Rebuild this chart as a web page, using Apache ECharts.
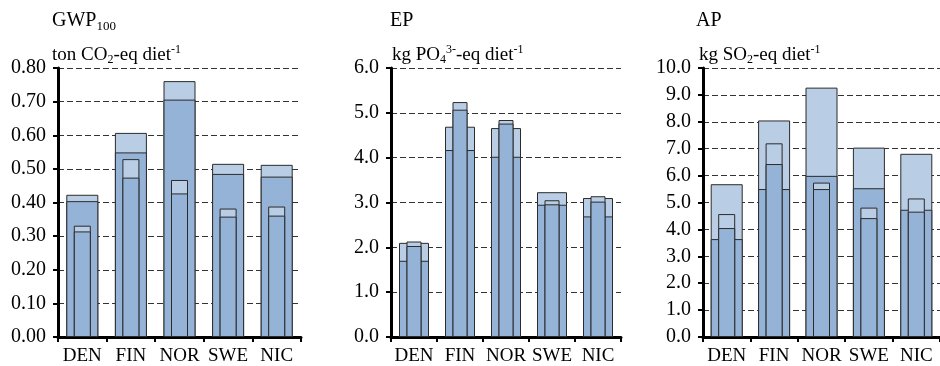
<!DOCTYPE html>
<html>
<head>
<meta charset="utf-8">
<script src="https://cdn.jsdelivr.net/npm/echarts@6/dist/echarts.min.js"></script>
<style>
  html, body { margin: 0; padding: 0; background: #fff; }
  #chart { width: 940px; height: 366px; }
</style>
</head>
<body>
<div id="chart"></div>
<script>
// categories
const countries = ['DEN', 'FIN', 'NOR', 'SWE', 'NIC'];

// GWP100 (ton CO2-eq diet-1)
const gwpWideTotal = [0.423, 0.607, 0.761, 0.515, 0.512];
const gwpWideDark = [0.404, 0.549, 0.706, 0.485, 0.477];
const gwpNarrowTotal = [0.331, 0.529, 0.467, 0.382, 0.388];
const gwpNarrowDark = [0.314, 0.474, 0.427, 0.358, 0.361];

// EP (kg PO4 3- -eq diet-1)
const epWideTotal = [2.10, 4.69, 4.66, 3.23, 3.10];
const epWideDark = [1.70, 4.17, 4.02, 2.95, 2.69];
const epNarrowTotal = [2.13, 5.24, 4.84, 3.05, 3.14];
const epNarrowDark = [2.03, 5.07, 4.76, 2.96, 3.02];

// AP (kg SO2-eq diet-1)
const apWideTotal = [5.68, 8.05, 9.27, 7.04, 6.81];
const apWideDark = [3.64, 5.50, 5.99, 5.53, 4.73];
const apNarrowTotal = [4.57, 7.20, 5.74, 4.81, 5.15];
const apNarrowDark = [4.05, 6.43, 5.50, 4.42, 4.66];

const serif = "'Liberation Serif', 'Times New Roman', serif";
const light = '#b9cde5';
const dark = '#95b3d7';
const edge = '#2b2b2b';

const panels = [
  { left: 58, width: 243, max: 0.8, interval: 0.1, digits: 2,
    title: '{m|GWP}{sub|100}', unit: '{m|ton CO}{sub|2}{m|-eq diet}{sup|-1}', titleX: 52, unitX: 52,
    data: [gwpWideTotal, gwpWideDark, gwpNarrowTotal, gwpNarrowDark], wide: 32, narrow: 17 },
  { left: 391, width: 230, max: 6, interval: 1, digits: 1,
    title: '{m|EP}', unit: '{m|kg PO}{sub|4}{sup|3-}{m|-eq diet}{sup|-1}', titleX: 390, unitX: 392,
    data: [epWideTotal, epWideDark, epNarrowTotal, epNarrowDark], wide: 30, narrow: 15 },
  { left: 703, width: 243, max: 10, interval: 1, digits: 1,
    title: '{m|AP}', unit: '{m|kg SO}{sub|2}{m|-eq diet}{sup|-1}', titleX: 696, unitX: 699,
    data: [apWideTotal, apWideDark, apNarrowTotal, apNarrowDark], wide: 32, narrow: 17 }
];

function rich(size, lh) {
  const small = Math.round(size * 0.65);
  return {
    m: { fontFamily: serif, fontSize: size, fontWeight: 'normal', lineHeight: lh, color: '#000' },
    sub: { fontFamily: serif, fontSize: small, fontWeight: 'normal', lineHeight: small, verticalAlign: 'bottom', color: '#000' },
    sup: { fontFamily: serif, fontSize: small, fontWeight: 'normal', lineHeight: small, verticalAlign: 'top', color: '#000' }
  };
}

const grid = [], xAxis = [], yAxis = [], series = [], title = [];

panels.forEach((p, i) => {
  grid.push({ left: p.left, top: 68, width: p.width, height: 270 });

  xAxis.push({
    type: 'category', gridIndex: i, data: countries,
    axisLine: { show: true, lineStyle: { color: '#000', width: 3 } },
    axisTick: { show: true, length: 5, lineStyle: { color: '#000', width: 2 } },
    axisLabel: { fontFamily: serif, fontSize: 19, color: '#000', margin: 10, interval: 0 },
    splitLine: { show: false }
  });
  xAxis.push({ type: 'category', gridIndex: i, data: countries, show: false });

  yAxis.push({
    type: 'value', gridIndex: i, min: 0, max: p.max, interval: p.interval,
    axisLine: { show: true, lineStyle: { color: '#000', width: 3 } },
    axisTick: { show: true, length: 5, lineStyle: { color: '#000', width: 2 } },
    axisLabel: {
      fontFamily: serif, fontSize: 20, color: '#000', margin: 12,
      formatter: (v) => v.toFixed(p.digits)
    },
    splitLine: { show: true, lineStyle: { color: '#333', width: 1, type: [6, 3] } }
  });

  const bar = (values, color, xi, width) => ({
    type: 'bar', xAxisIndex: xi, yAxisIndex: i, data: values,
    barWidth: width, barGap: '-100%', silent: true,
    itemStyle: { color: color, borderColor: edge, borderWidth: 1 }
  });
  series.push(bar(p.data[0], light, i * 2, p.wide));
  series.push(bar(p.data[1], dark, i * 2, p.wide));
  series.push(bar(p.data[2], light, i * 2 + 1, p.narrow));
  series.push(bar(p.data[3], dark, i * 2 + 1, p.narrow));

  title.push({ text: p.title, left: p.titleX, top: 9, padding: 0, textStyle: { fontWeight: 'normal', rich: rich(20, 24) } });
  title.push({ text: p.unit, left: p.unitX, top: 44, padding: 0, textStyle: { fontWeight: 'normal', rich: rich(19, 22) } });
});

const myChart = echarts.init(document.getElementById('chart'));
myChart.setOption({
  animation: false,
  backgroundColor: '#fff',
  textStyle: { fontFamily: serif },
  title: title,
  grid: grid,
  xAxis: xAxis,
  yAxis: yAxis,
  series: series
});
</script>
</body>
</html>
